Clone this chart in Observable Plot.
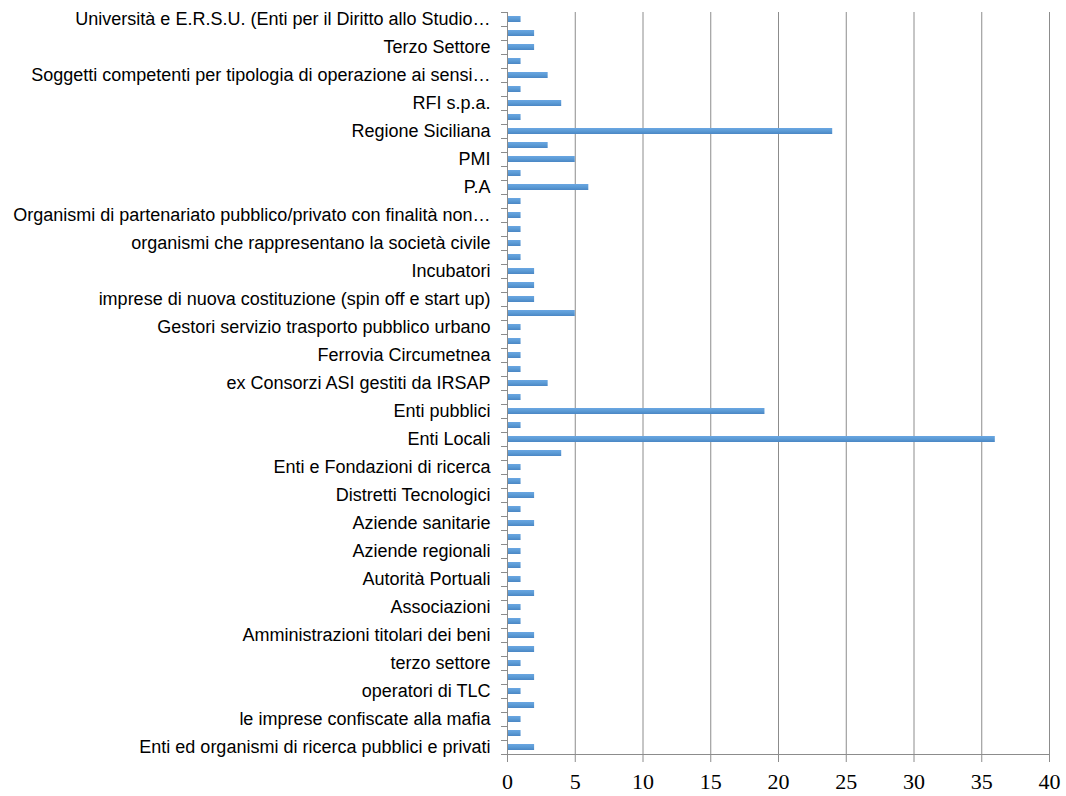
<!DOCTYPE html>
<html>
<head>
<meta charset="utf-8">
<script src="https://cdn.jsdelivr.net/npm/d3@7"></script>
<script src="https://cdn.jsdelivr.net/npm/@observablehq/plot@0.6"></script>
<style>
  html, body { margin: 0; padding: 0; background: #ffffff; }
  #chart { width: 1066px; height: 796px; }
</style>
</head>
<body>
<div id="chart"></div>
<script>
// Categories listed top to bottom; null = label not shown on the axis (Excel skips every other label)
const labels = [
  "Università e E.R.S.U. (Enti per il Diritto allo Studio…", null,
  "Terzo Settore", null,
  "Soggetti competenti per tipologia di operazione ai sensi…", null,
  "RFI s.p.a.", null,
  "Regione Siciliana", null,
  "PMI", null,
  "P.A", null,
  "Organismi di partenariato pubblico/privato con finalità non…", null,
  "organismi che rappresentano la società civile", null,
  "Incubatori", null,
  "imprese di nuova costituzione (spin off e start up)", null,
  "Gestori servizio trasporto pubblico urbano", null,
  "Ferrovia Circumetnea", null,
  "ex Consorzi ASI gestiti da IRSAP", null,
  "Enti pubblici", null,
  "Enti Locali", null,
  "Enti e Fondazioni di ricerca", null,
  "Distretti Tecnologici", null,
  "Aziende sanitarie", null,
  "Aziende regionali", null,
  "Autorità Portuali", null,
  "Associazioni", null,
  "Amministrazioni titolari dei beni", null,
  "terzo settore", null,
  "operatori di TLC", null,
  "le imprese confiscate alla mafia", null,
  "Enti ed organismi di ricerca pubblici e privati"
];
const values = [
  1, 2, 2, 1, 3, 1, 4, 1, 24, 3,
  5, 1, 6, 1, 1, 1, 1, 1, 2, 2,
  2, 5, 1, 1, 1, 1, 3, 1, 19, 1,
  36, 4, 1, 1, 2, 1, 2, 1, 1, 1,
  1, 2, 1, 1, 2, 2, 1, 2, 1, 2,
  1, 1, 2
];
const xTicks = [0, 5, 10, 15, 20, 25, 30, 35, 40];

const ids = labels.map((_, i) => i);
const data = ids.map(i => ({id: i, label: labels[i], value: values[i]}));
const labeledIds = ids.filter(i => labels[i] !== null);
const lastId = ids[ids.length - 1];
const gray = "#8c8c8c";

const chart = Plot.plot({
  width: 1066,
  height: 796,
  marginLeft: 507,
  marginRight: 17,
  marginTop: 12,
  marginBottom: 42,
  style: {background: "transparent", fontFamily: "Arial, 'Liberation Sans', sans-serif"},
  x: {domain: [0, 40]},
  y: {domain: ids, paddingInner: 0.56, paddingOuter: 0.28, align: 0.5},
  marks: [
    Plot.gridX(xTicks.filter(d => d > 0), {stroke: gray, strokeOpacity: 1, strokeWidth: 1}),
    Plot.barX(data, {x: "value", y: "id", fill: "url(#barGrad)"}),
    Plot.ruleX([0], {stroke: gray, strokeWidth: 1}),
    Plot.ruleY([lastId], {dy: 7, stroke: gray, strokeWidth: 1}),
    // y tick marks at category boundaries
    Plot.axisY({ticks: ids, tickSize: 6, text: null, dy: -7, stroke: gray, label: null}),
    Plot.axisY({ticks: [lastId], tickSize: 6, text: null, dy: 7, stroke: gray, label: null}),
    // y labels
    Plot.axisY({ticks: labeledIds, tickSize: 0, tickPadding: 17, tickFormat: i => labels[i],
      fontSize: 18, fill: "#000", label: null, textOverflow: null}),
    // x axis
    Plot.axisX({ticks: xTicks, tickSize: 8, tickPadding: 11, stroke: gray,
      fontSize: 22, fontFamily: "'Liberation Serif', 'Times New Roman', serif", fill: "#000", label: null})
  ]
});

const svg = chart.tagName.toLowerCase() === "svg" ? chart : chart.querySelector("svg");
const ns = "http://www.w3.org/2000/svg";
const defs = document.createElementNS(ns, "defs");
const grad = document.createElementNS(ns, "linearGradient");
grad.setAttribute("id", "barGrad");
grad.setAttribute("x1", "0"); grad.setAttribute("y1", "0");
grad.setAttribute("x2", "0"); grad.setAttribute("y2", "1");
[["0%", "#6aa6e2"], ["50%", "#5b9bd5"], ["100%", "#4a86c4"]].forEach(([o, c]) => {
  const s = document.createElementNS(ns, "stop");
  s.setAttribute("offset", o); s.setAttribute("stop-color", c);
  grad.appendChild(s);
});
defs.appendChild(grad);
svg.insertBefore(defs, svg.firstChild);

document.getElementById("chart").appendChild(chart);
</script>
</body>
</html>
